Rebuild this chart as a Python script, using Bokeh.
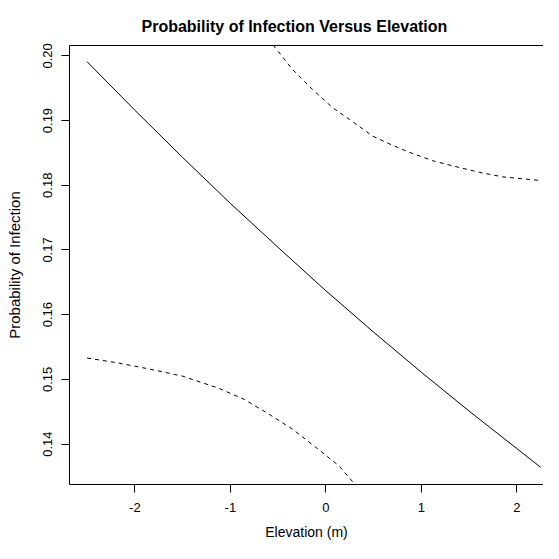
from bokeh.plotting import figure
from bokeh.models import Range1d, FixedTicker, LinearAxis, NumeralTickFormatter
from bokeh.embed import file_html
from bokeh.resources import INLINE

# ---- data ----
elev_fit = [-2.5, -2.0, -1.5, -1.0, -0.5, 0.0, 0.5, 1.0, 1.5, 2.0, 2.25]
prob_fit = [0.1991, 0.1916, 0.1843, 0.1772, 0.1704, 0.1637, 0.1573, 0.1511, 0.1451, 0.1393, 0.1364]

elev_upper = [-0.65, -0.548, -0.349, -0.139, 0.070, 0.245, 0.489, 0.664, 0.855, 1.117, 1.327, 1.606, 1.850, 2.199, 2.25]
prob_upper = [0.2037, 0.2016, 0.1979, 0.1948, 0.1920, 0.1902, 0.1876, 0.1864, 0.1852, 0.1838, 0.1830, 0.1820, 0.1813, 0.1808, 0.1807]

elev_lower = [-2.5, -2.199, -1.849, -1.501, -1.116, -0.854, -0.593, -0.349, -0.105, 0.140, 0.297, 0.40]
prob_lower = [0.1533, 0.1526, 0.1516, 0.1505, 0.1486, 0.1469, 0.1446, 0.1423, 0.1395, 0.1366, 0.1339, 0.1322]

x_ticks = [-2, -1, 0, 1, 2]
x_tick_labels = ["-2", "-1", "0", "1", "2"]
y_ticks = [0.14, 0.15, 0.16, 0.17, 0.18, 0.19, 0.20]

title_text = "Probability of Infection Versus Elevation"
x_label = "Elevation (m)"
y_label = "Probability of Infection"

FONT = "Liberation Sans"

p = figure(width=543, height=543, output_backend="svg", toolbar_location=None,
           x_range=Range1d(-2.684, 2.279), y_range=Range1d(0.13375, 0.2016),
           min_border_left=69, min_border_top=45, min_border_right=0, min_border_bottom=59,
           title=title_text)

xax = p.below[0]
yax = p.left[0]

p.outline_line_color = None
p.xgrid.visible = False
p.ygrid.visible = False
p.background_fill_color = "white"
p.border_fill_color = "white"

p.title.text_font = FONT
p.title.text_font_size = "16px"
p.title.text_font_style = "bold"
p.title.text_color = "black"
p.title.align = "left"
p.title.offset = 72
p.title.standoff = 22

for ax in (xax, yax):
    ax.axis_line_color = "black"
    ax.major_tick_line_color = "black"
    ax.minor_tick_line_color = None
    ax.major_tick_out = 8
    ax.major_tick_in = 0
    ax.major_label_text_font = FONT
    ax.major_label_text_font_size = "13px"
    ax.major_label_text_color = "black"
    ax.axis_label_text_font = FONT
    ax.axis_label_text_font_style = "normal"
    ax.axis_label_text_color = "black"

xax.ticker = FixedTicker(ticks=x_ticks)
xax.major_label_overrides = dict(zip(x_ticks, x_tick_labels))
xax.axis_label = x_label
xax.axis_label_text_font_size = "14px"
xax.major_label_standoff = 10
xax.axis_label_standoff = 9

yax.ticker = FixedTicker(ticks=y_ticks)
yax.formatter = NumeralTickFormatter(format="0.00")
yax.major_label_orientation = "vertical"
yax.axis_label = y_label
yax.axis_label_text_font_size = "15px"
yax.major_label_standoff = 9
yax.axis_label_standoff = 18

# top frame line (no ticks, no labels)
top = LinearAxis(ticker=FixedTicker(ticks=[]), major_tick_out=0, major_tick_in=0,
                 minor_tick_out=0, minor_tick_in=0, axis_line_color="black",
                 minor_tick_line_color=None, major_tick_line_color=None)
p.add_layout(top, "above")

p.line(elev_fit, prob_fit, line_color="black", line_width=1)
p.line(elev_upper, prob_upper, line_color="black", line_width=1, line_dash="4 4")
p.line(elev_lower, prob_lower, line_color="black", line_width=1, line_dash="4 4")

open("out.html", "w").write(file_html(p, INLINE))
